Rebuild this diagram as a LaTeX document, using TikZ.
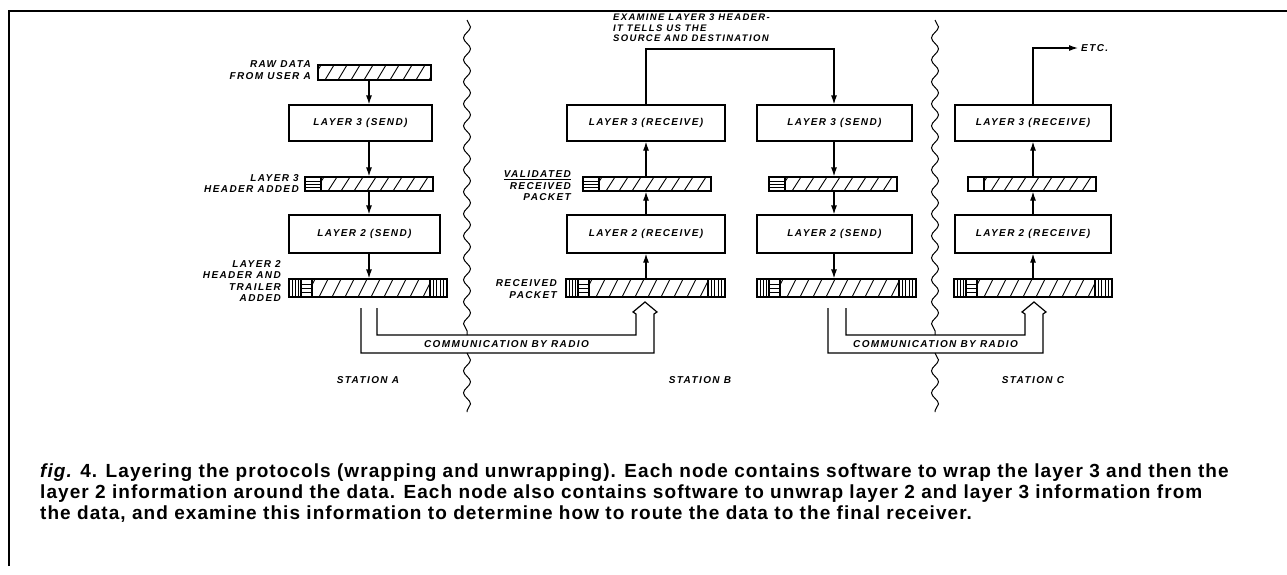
\documentclass[tikz,border=0pt]{standalone}
\usepackage{fontspec}
\setmainfont{Liberation Sans}
\newfontfamily\lblfont[LetterSpace=14]{Liberation Sans}
\newfontfamily\capfont[LetterSpace=5.6]{Liberation Sans}
\usetikzlibrary{arrows.meta,decorations.pathmorphing,calc}

\tikzset{
  pktline/.style={line width=1.2pt},
  thinline/.style={line width=0.7pt},
  hatchline/.style={line width=0.9pt},
}
\newcommand\hatchfill[4]{%
  \begin{scope}
    \clip ({#1},{#3}) rectangle ({#2},{#4});
    \foreach \k in {0,...,14}{%
      \draw[hatchline] ({(#1)-6+\k*13},{#4}) -- ++(9,{(#3)-(#4)});
    }
  \end{scope}}
\newcommand\hlinesfill[4]{%
  \foreach \ff in {0.28,0.5,0.72}{%
    \draw[thinline] ({#1},{(#3)+\ff*((#4)-(#3))}) -- ({#2},{(#3)+\ff*((#4)-(#3))});
  }}
\newcommand\vlinesfill[5]{%
  \foreach \ii in {1,...,#5}{%
    \draw[thinline] ({(#1)+\ii*((#2)-(#1))/(#5+1)},{#3}) -- ({(#1)+\ii*((#2)-(#1))/(#5+1)},{#4});
  }}
\newcommand\ltwopkt[4]{%
  \vlinesfill{#1}{(#1)+12}{#3}{#4}{3}
  \draw[pktline] ({(#1)+12},{#3}) -- ({(#1)+12},{#4});
  \hlinesfill{(#1)+12}{(#1)+23}{#3}{#4}
  \draw[pktline] ({(#1)+23},{#3}) -- ({(#1)+23},{#4});
  \hatchfill{(#1)+23}{(#2)-17}{#3}{#4}
  \draw[pktline] ({(#2)-17},{#3}) -- ({(#2)-17},{#4});
  \vlinesfill{(#2)-17}{#2}{#3}{#4}{4}}
\newcommand\lthreepkt[5]{%
  \ifnum#5=1 \hlinesfill{#1}{(#1)+16}{#3}{#4}\fi
  \draw[pktline] ({(#1)+16},{#3}) -- ({(#1)+16},{#4});
  \hatchfill{(#1)+16}{#2}{#3}{#4}}

\begin{document}
\begin{tikzpicture}[x=1pt,y=-1pt,
  lbl/.style={font=\lblfont\bfseries\itshape\fontsize{10}{11.6}\selectfont, inner sep=0pt, align=right},
  lbox/.style={draw, line width=1.2pt, inner sep=0pt, font=\lblfont\bfseries\itshape\fontsize{10}{11.6}\selectfont},
  pkt/.style={draw, line width=1.2pt, inner sep=0pt},
  arr/.style={line width=1.2pt, -{Latex[length=9pt,width=6pt]}},
  wave/.style={line width=1pt, decorate, decoration={snake, segment length=22pt, amplitude=3.5pt}},
  radio/.style={line width=1.2pt, line join=miter},
  captxt/.style={font=\capfont\bfseries\fontsize{19}{21}\selectfont, inner sep=0pt, anchor=base west},
  framebox/.style={line width=1.4pt},
]
\useasboundingbox (0,0) rectangle (1287,574);
\draw[framebox] (9,566) -- (9,11) -- (1287,11);

% ---------- Station A
\node[pkt, minimum width=113pt, minimum height=15pt] (raw) at (374.5,72.5) {};
\node[lbox, minimum width=143pt, minimum height=36pt] (a3) at (360.5,123) {LAYER 3 (SEND)};
\node[pkt, minimum width=128pt, minimum height=14pt] (a3p) at (369,184) {};
\node[lbox, minimum width=151pt, minimum height=38pt] (a2) at (364.5,234) {LAYER 2 (SEND)};
\node[pkt, minimum width=158pt, minimum height=18pt] (a2p) at (368,288) {};
\hatchfill{318}{431}{65}{80}
\lthreepkt{305}{433}{177}{191}{1}
\ltwopkt{289}{447}{279}{297}
\coordinate (ax) at (369,0);
\draw[arr] (ax |- raw.south) -- (ax |- a3.north);
\draw[arr] (ax |- a3.south) -- (ax |- a3p.north);
\draw[arr] (ax |- a3p.south) -- (ax |- a2.north);
\draw[arr] (ax |- a2.south) -- (ax |- a2p.north);
\node[lbl, anchor=east] (lraw) at (311,70) {RAW DATA\\FROM USER A};
\node[lbl, anchor=east] (la3) at (299,183.5) {LAYER 3\\HEADER ADDED};
\node[lbl, anchor=east] (la2) at (281,281) {LAYER 2\\HEADER AND\\TRAILER\\ADDED};

% ---------- Station B, receive side
\node[lbox, minimum width=158pt, minimum height=36pt] (bl3) at (646,123) {LAYER 3 (RECEIVE)};
\node[pkt, minimum width=128pt, minimum height=14pt] (bl3p) at (647,184) {};
\node[lbox, minimum width=158pt, minimum height=38pt] (bl2) at (646,234) {LAYER 2 (RECEIVE)};
\node[pkt, minimum width=159pt, minimum height=18pt] (bl2p) at (645.5,288) {};
\lthreepkt{583}{711}{177}{191}{1}
\ltwopkt{566}{725}{279}{297}
\coordinate (blx) at (646,0);
\draw[arr] (blx |- bl2p.north) -- (blx |- bl2.south);
\draw[arr] (blx |- bl2.north) -- (blx |- bl3p.south);
\draw[arr] (blx |- bl3p.north) -- (blx |- bl3.south);
\node[lbl, anchor=east] (lval) at (571,186) {\underline{VALIDATED}\\RECEIVED\\PACKET};
\node[lbl, anchor=east] (lrec) at (557,289) {RECEIVED\\PACKET};

% ---------- Station B, send side
\node[lbox, minimum width=155pt, minimum height=36pt] (br3) at (834.5,123) {LAYER 3 (SEND)};
\node[pkt, minimum width=128pt, minimum height=14pt] (br3p) at (833,184) {};
\node[lbox, minimum width=155pt, minimum height=38pt] (br2) at (834.5,234) {LAYER 2 (SEND)};
\node[pkt, minimum width=159pt, minimum height=18pt] (br2p) at (836.5,288) {};
\lthreepkt{769}{897}{177}{191}{1}
\ltwopkt{757}{916}{279}{297}
\coordinate (brx) at (834,0);
\draw[arr] (brx |- br3.south) -- (brx |- br3p.north);
\draw[arr] (brx |- br3p.south) -- (brx |- br2.north);
\draw[arr] (brx |- br2.south) -- (brx |- br2p.north);
\coordinate (brk) at (646,49);
\draw[arr] (bl3.north) -- (brk) -| (brx |- br3.north);
\node[lbl, anchor=north west, align=left, font=\lblfont\bfseries\itshape\fontsize{9.5}{10.5}\selectfont] (exam) at (613,14) {EXAMINE LAYER 3 HEADER-\\IT TELLS US THE\\SOURCE AND DESTINATION};

% ---------- Station C
\node[lbox, minimum width=156pt, minimum height=36pt] (c3) at (1033,123) {LAYER 3 (RECEIVE)};
\node[pkt, minimum width=128pt, minimum height=14pt] (c3p) at (1032,184) {};
\node[lbox, minimum width=156pt, minimum height=38pt] (c2) at (1033,234) {LAYER 2 (RECEIVE)};
\node[pkt, minimum width=158pt, minimum height=18pt] (c2p) at (1033,288) {};
\lthreepkt{968}{1096}{177}{191}{0}
\ltwopkt{954}{1112}{279}{297}
\coordinate (cx) at (1033,0);
\draw[arr] (cx |- c2p.north) -- (cx |- c2.south);
\draw[arr] (cx |- c2.north) -- (cx |- c3p.south);
\draw[arr] (cx |- c3p.north) -- (cx |- c3.south);
\node[lbl, anchor=west] (etc) at (1081,48) {ETC.};
\draw[arr] (c3.north) |- ([xshift=-3pt]etc.west);

% ---------- radio links
\draw[radio] (361,308) |- (654,353) -- (654,314) -- (657,312) -- (645,302) -- (633,312) -- (636,314) |- (377,335) -- (377,308);
\draw[radio] (828,308) |- (1043,353) -- (1043,314) -- (1046,312) -- (1034,302) -- (1022,312) -- (1025,314) |- (846,335) -- (846,308);
\node[lbl] (com1) at (506.5,344.5) {COMMUNICATION BY RADIO};
\node[lbl] (com2) at (935.5,344.5) {COMMUNICATION BY RADIO};

% ---------- station boundaries
\draw[wave] (467,20) -- (467,335);
\draw[wave] (467,353) -- (467,412);
\draw[wave] (935,20) -- (935,335);
\draw[wave] (935,353) -- (935,412);

\node[lbl] (sta) at (368,380) {STATION A};
\node[lbl] (stb) at (700,380) {STATION B};
\node[lbl] (stc) at (1033,380) {STATION C};

% ---------- caption
\node[captxt] (cap1) at (40,477) {{\itshape fig.} 4. Layering the protocols (wrapping and unwrapping). Each node contains software to wrap the layer 3 and then the};
\node[captxt] (cap2) at (40,498) {layer 2 information around the data. Each node also contains software to unwrap layer 2 and layer 3 information from};
\node[captxt] (cap3) at (40,519) {the data, and examine this information to determine how to route the data to the final receiver.};
\end{tikzpicture}
\end{document}
